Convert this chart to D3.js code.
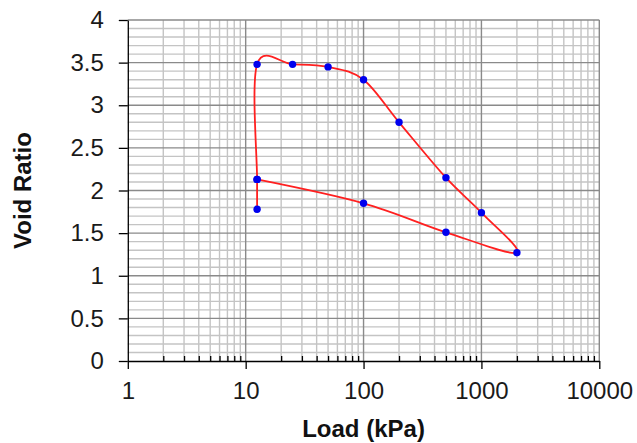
<!DOCTYPE html>
<html>
<head>
<meta charset="utf-8">
<script src="https://cdn.jsdelivr.net/npm/d3@7"></script>
<style>
  html, body { margin: 0; padding: 0; background: #fff; }
  svg { display: block; font-family: "Liberation Sans", Arial, sans-serif; }
</style>
</head>
<body>
<svg id="chart" width="637" height="443"></svg>
<script>
// Consolidation test: void ratio against applied load (log scale)
const loads = [12.5, 12.5, 12.5, 25, 50, 100, 200, 500, 1000, 2000, 500, 100, 12.5];
const voidRatios = [1.78, 2.13, 3.48, 3.48, 3.45, 3.30, 2.80, 2.15, 1.74, 1.27, 1.51, 1.85, 2.13];

const xTickValues = [1, 10, 100, 1000, 10000];
const yTickValues = [0, 0.5, 1, 1.5, 2, 2.5, 3, 3.5, 4];

const svg = d3.select("#chart");
const plotLeft = 127.8, plotRight = 599.3, plotTop = 20, plotBottom = 361;

const x = d3.scaleLog().domain([1, 10000]).range([plotLeft, plotRight]);
const y = d3.scaleLinear().domain([0, 4]).range([plotBottom, plotTop]);

// minor decade values 2..9 in each decade
const xMinor = [];
for (let p = 0; p < 4; p++) for (let m = 2; m <= 9; m++) xMinor.push(m * Math.pow(10, p));
const yMinor = d3.range(0, 41).map(i => i / 10).filter(v => Math.abs(v * 2 - Math.round(v * 2)) > 1e-6);

const grid = svg.append("g");
// minor grid
grid.selectAll(".vminor").data(xMinor).join("line")
  .attr("x1", d => x(d)).attr("x2", d => x(d))
  .attr("y1", plotTop).attr("y2", plotBottom)
  .attr("stroke", "#c4c4c4").attr("stroke-width", 1.4);
grid.selectAll(".hminor").data(yMinor).join("line")
  .attr("x1", plotLeft).attr("x2", plotRight)
  .attr("y1", d => y(d)).attr("y2", d => y(d))
  .attr("stroke", "#c4c4c4").attr("stroke-width", 1.4);
// major grid
grid.selectAll(".vmajor").data(xTickValues.slice(1)).join("line")
  .attr("x1", d => x(d)).attr("x2", d => x(d))
  .attr("y1", plotTop).attr("y2", plotBottom)
  .attr("stroke", "#8a8a8a").attr("stroke-width", 1.4);
grid.selectAll(".hmajor").data(yTickValues.slice(1)).join("line")
  .attr("x1", plotLeft).attr("x2", plotRight)
  .attr("y1", d => y(d)).attr("y2", d => y(d))
  .attr("stroke", "#8a8a8a").attr("stroke-width", 1.4);

// x axis: major ticks outside, minor ticks inside
const xAxis = svg.append("g").attr("transform", `translate(0,${plotBottom})`)
  .call(d3.axisBottom(x).tickValues(xTickValues).tickFormat(d3.format("d"))
    .tickSize(8).tickSizeOuter(0).tickPadding(13));
const xMinorAxis = svg.append("g").attr("transform", `translate(0,${plotBottom})`)
  .call(d3.axisBottom(x).tickValues(xMinor).tickFormat("").tickSize(-5).tickSizeOuter(0));
xMinorAxis.select(".domain").remove();

const yAxis = svg.append("g").attr("transform", `translate(${plotLeft},0)`)
  .call(d3.axisLeft(y).tickValues(yTickValues).tickFormat(d3.format("")).tickSize(9)
    .tickSizeOuter(0).tickPadding(15));

[xAxis, yAxis, xMinorAxis].forEach(g => {
  g.selectAll("path, line").attr("stroke", "#000").attr("stroke-width", 1.3);
  g.selectAll("text").attr("fill", "#1a1a1a").style("font-size", "24px")
    .style("font-family", "'Liberation Sans', Arial, sans-serif");
});

// series line (smoothed) and markers
const pts = loads.map((l, i) => [l, voidRatios[i]]);
svg.append("path")
  .datum(pts)
  .attr("fill", "none")
  .attr("stroke", "#ff2020")
  .attr("stroke-width", 1.8)
  .attr("d", d3.line().x(d => x(d[0])).y(d => y(d[1])).curve(d3.curveCatmullRom.alpha(0)));

svg.append("g").selectAll("circle").data(pts).join("circle")
  .attr("cx", d => x(d[0])).attr("cy", d => y(d[1]))
  .attr("r", 3.7).attr("fill", "#0000ee");

// axis titles
svg.append("text")
  .attr("x", (plotLeft + plotRight) / 2).attr("y", 437)
  .attr("text-anchor", "middle")
  .style("font-size", "24px").style("font-weight", "bold").attr("fill", "#111")
  .text("Load (kPa)");

svg.append("text")
  .attr("transform", `translate(31,${(plotTop + plotBottom) / 2}) rotate(-90)`)
  .attr("text-anchor", "middle")
  .style("font-size", "24px").style("font-weight", "bold").attr("fill", "#111")
  .text("Void Ratio");
</script>
</body>
</html>
